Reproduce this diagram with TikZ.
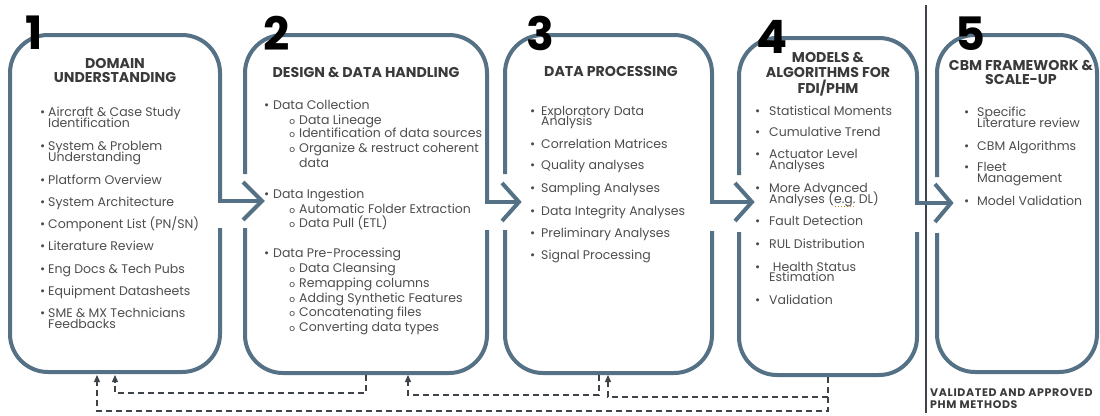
\documentclass[tikz,border=0pt]{standalone}
\usepackage{fontspec}
\setmainfont{Poppins}
\usetikzlibrary{arrows.meta}
\definecolor{boxc}{HTML}{557186}
\definecolor{titc}{HTML}{3A3A3A}
\definecolor{txtc}{HTML}{4D4D4D}
\definecolor{dashc}{HTML}{3E4249}
\definecolor{spellc}{HTML}{C8901E}
\newcommand\bu[1]{\llap{\textbullet\hspace{#1pt}}}
\newcommand\so{\llap{{\fontsize{9}{9}\selectfont o}\hspace{4pt}}}
\newcommand\dotul[1]{\setbox0\hbox{#1}\rlap{\raisebox{-3.5pt}{\color{spellc}\hbox to \wd0{\leaders\hbox to 3pt{\hss\rule{1.5pt}{1.5pt}\hss}\hfill}}}\box0\relax}
\newcommand\bl[4]{\node[body] (#1) at (#2,#3) {#4};}
\newcommand\tl[4]{\node[title] (#1) at (#2,#3) {#4};}
\tikzset{
 boxline/.style={draw=boxc, line width=4pt, rounded corners=38pt},
 arrline/.style={draw=boxc, line width=4pt, line join=miter},
 title/.style={font=\bfseries\fontsize{14.2}{15}\selectfont, text=titc, anchor=base, inner sep=0pt},
 body/.style={font=\fontsize{12.5}{13}\selectfont, text=txtc, anchor=base west, inner sep=0pt},
 numlab/.style={font=\bfseries\fontsize{46}{46}\selectfont, text=black, anchor=base, inner sep=0pt},
 foot/.style={font=\bfseries\fontsize{11}{11}\selectfont\addfontfeature{LetterSpace=6}, text=titc, anchor=base west, inner sep=0pt},
 fb/.style={draw=dashc, line width=1.3pt, dash pattern=on 6pt off 4pt},
 fbarrow/.style={fb, -{Triangle[length=7pt,width=6pt]}},
}
\begin{document}
\begin{tikzpicture}[x=1pt,y=-1pt]
\useasboundingbox (0,0) rectangle (1100,415);
% separator
\draw[dashc, line width=1.5pt] (926,5) -- (926,413);
% box 1
\draw[boxline] (220,228) -- (220,372) -- (10,372) -- (10,35) -- (220,35) -- (220,201);
\draw[arrline] (220,150) -- (220,201) -- (262,201);
\draw[arrline] (243,182) -- (262,201) -- (243,220);
% box 2
\draw[boxline] (245,228) -- (245,373) -- (487,373) -- (487,230);
\draw[boxline] (245,174) -- (245,35) -- (487,35) -- (487,202);
\draw[arrline] (487,150) -- (487,202) -- (519,202);
\draw[arrline] (502,183) -- (519,202) -- (502,221);
% box 3
\draw[boxline] (505,230) -- (505,373) -- (712,373) -- (712,231);
\draw[boxline] (505,174) -- (505,35) -- (712,35) -- (712,202);
\draw[arrline] (712,150) -- (712,202) -- (752,202);
\draw[arrline] (735,183) -- (752,202) -- (735,221);
% box 4
\draw[boxline] (739,232) -- (739,375) -- (917,375) -- (917,232);
\draw[boxline] (739,175) -- (739,38) -- (917,38) -- (917,203);
\draw[arrline] (917,150) -- (917,203) -- (951,203);
\draw[arrline] (935,184) -- (951,203) -- (935,222);
% box 5
\draw[boxline] (937,233) -- (937,372) -- (1097,372) -- (1097,35) -- (937,35) -- (937,177);
% numbers
\node[numlab] (n1) at (34,49) {1};
\node[numlab] (n2) at (277,50) {2};
\node[numlab] (n3) at (540,50) {3};
\node[numlab] (n4) at (772,53) {4};
\node[numlab] (n5) at (970,50) {5};
% box 1 text
\tl{t1a}{115}{68.3}{DOMAIN}
\tl{t1b}{115}{82.7}{UNDERSTANDING}
\bl{b1a}{48}{116.7}{\bu{3}Aircraft \& Case Study}
\bl{b1b}{48}{127.7}{Identification}
\bl{b1c}{48}{150.7}{\bu{3}System \& Problem}
\bl{b1d}{48}{161.3}{Understanding}
\bl{b1e}{48}{184}{\bu{3}Platform Overview}
\bl{b1f}{48}{206.5}{\bu{3}System Architecture}
\bl{b1g}{48}{228.5}{\bu{3}Component List (PN/SN)}
\bl{b1h}{48}{250.5}{\bu{3}Literature Review}
\bl{b1i}{48}{273}{\bu{3}Eng Docs \& Tech Pubs}
\bl{b1j}{48}{295.7}{\bu{3}Equipment Datasheets}
\bl{b1k}{48}{317}{\bu{3}SME \& MX Technicians}
\bl{b1l}{48}{328.3}{Feedbacks}
% box 2 text
\tl{t2a}{366}{77.7}{DESIGN \& DATA HANDLING}
\bl{b2a}{273}{109.3}{\bu{4}Data Collection}
\bl{b2b}{299}{124}{\so Data Lineage}
\bl{b2c}{299}{137.7}{\so Identification of data sources}
\bl{b2d}{299}{152.7}{\so Organize \& restruct coherent}
\bl{b2e}{299}{167.3}{data}
\bl{b2f}{273}{198.3}{\bu{4}Data Ingestion}
\bl{b2g}{299}{213.3}{\so Automatic Folder Extraction}
\bl{b2h}{299}{227.3}{\so Data Pull (ETL)}
\bl{b2i}{273}{257.3}{\bu{4}Data Pre-Processing}
\bl{b2j}{299}{272.3}{\so Data Cleansing}
\bl{b2k}{299}{287.3}{\so Remapping columns}
\bl{b2l}{299}{302.3}{\so Adding Synthetic Features}
\bl{b2m}{299}{316.7}{\so Concatenating files}
\bl{b2n}{299}{331.7}{\so Converting data types}
% box 3 text
\tl{t3a}{611}{76}{DATA PROCESSING}
\bl{b3a}{541}{115}{\bu{6}Exploratory Data}
\bl{b3b}{541}{125.7}{Analysis}
\bl{b3c}{541}{148.3}{\bu{6}Correlation Matrices}
\bl{b3d}{541}{169.3}{\bu{6}Quality analyses}
\bl{b3e}{541}{192.3}{\bu{6}Sampling Analyses}
\bl{b3f}{541}{215}{\bu{6}Data Integrity Analyses}
\bl{b3g}{541}{237.3}{\bu{6}Preliminary Analyses}
\bl{b3h}{541}{259}{\bu{6}Signal Processing}
% box 4 text
\tl{t4a}{828}{62.7}{MODELS \&}
\tl{t4b}{828}{77.3}{ALGORITHMS FOR}
\tl{t4c}{828}{93.3}{FDI/PHM}
\bl{b4a}{769}{115.7}{\bu{9}Statistical Moments}
\bl{b4b}{769}{136.7}{\bu{9}Cumulative Trend}
\bl{b4c}{769}{158.3}{\bu{9}Actuator Level}
\bl{b4d}{769}{169.3}{Analyses}
\bl{b4e}{769}{192.7}{\bu{9}More Advanced}
\bl{b4f}{769}{203.7}{Analyses (\dotul{e.g.} DL)}
\bl{b4g}{769}{225.7}{\bu{9}Fault Detection}
\bl{b4h}{769}{248.3}{\bu{9}RUL Distribution}
\bl{b4i}{772.7}{271}{\bu{12.7}Health Status}
\bl{b4j}{769}{281.7}{Estimation}
\bl{b4k}{769}{304}{\bu{9}Validation}
% box 5 text
\tl{t5a}{1021}{70}{CBM FRAMEWORK \&}
\tl{t5b}{1021}{84.3}{SCALE-UP}
\bl{b5a}{977}{116.7}{\bu{8}Specific}
\bl{b5b}{977}{127.7}{Literature review}
\bl{b5c}{977}{150}{\bu{8}CBM Algorithms}
\bl{b5d}{977}{171}{\bu{8}Fleet}
\bl{b5e}{977}{182.5}{Management}
\bl{b5f}{977}{205.7}{\bu{8}Model Validation}
% footer
\node[foot] (ft1) at (930,396.7) {VALIDATED AND APPROVED};
\node[foot] (ft2) at (930,408.3) {PHM METHODS};
% feedback connectors
\coordinate (f1a) at (97,375);
\coordinate (f1b) at (115,375);
\coordinate (f2s) at (366,375);
\coordinate (f2a) at (408,375);
\coordinate (f3s) at (599,375);
\coordinate (f3a) at (608,375);
\coordinate (f4s) at (828,377);
\draw[fbarrow] (f4s) -- ++(0,34) -| (f1a);
\draw[fbarrow] (f2s) -- ++(0,18) -| (f1b);
\draw[fbarrow] (f3s) -- ++(0,20) -| (f2a);
\draw[fbarrow] (f4s) -- ++(0,20) -| (f3a);
\end{tikzpicture}
\end{document}
